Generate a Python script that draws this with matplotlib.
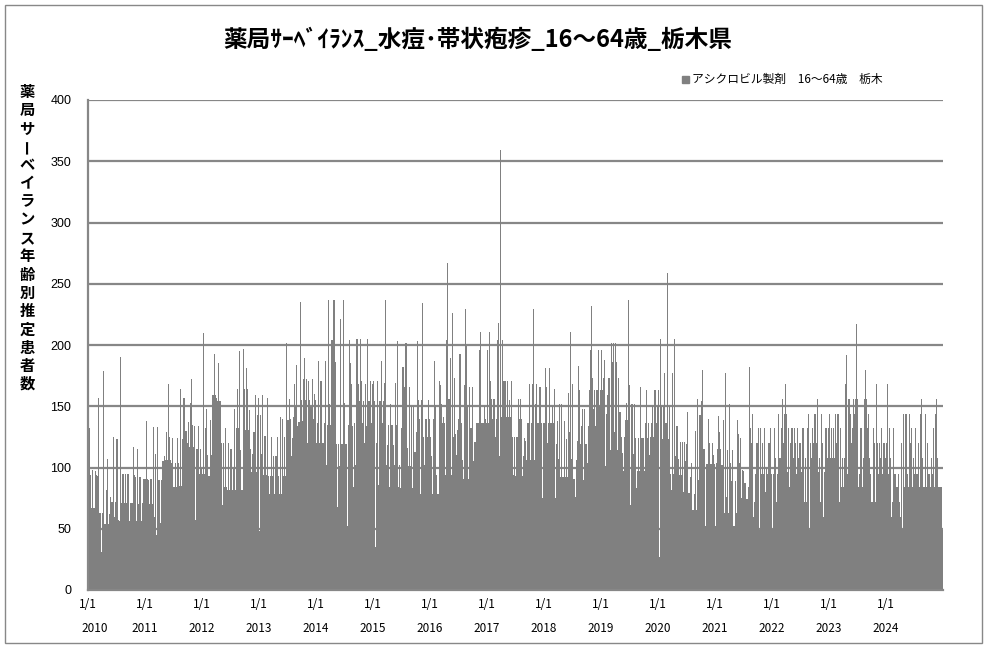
import matplotlib
matplotlib.use("Agg")
import matplotlib.pyplot as plt
import matplotlib.dates as mdates
from matplotlib.patches import Rectangle
import datetime as dt
import numpy as np

plt.rcParams['font.family'] = ['Noto Sans CJK JP', 'DejaVu Sans']

# Data: weekly values, one list per year
years = list(range(2010, 2025))
v2010 = [94, 132, 94, 67, 98, 67, 97, 94, 93, 157, 63, 63, 31, 63, 179, 54, 82, 107,
         54, 62, 76, 72, 72, 125, 60, 72, 123, 57, 56, 190, 71, 95, 95, 71, 95, 71,
         95, 56, 71, 71, 71, 117, 94, 92, 56, 115, 70, 92, 56, 71, 91, 91]
v2011 = [91, 138, 91, 90, 70, 91, 70, 133, 60, 111, 45, 133, 90, 90, 55, 90, 105, 109,
         106, 129, 106, 168, 125, 106, 104, 124, 84, 104, 84, 124, 104, 85, 164, 85, 123,
         157, 157, 130, 120, 137, 117, 153, 172, 135, 117, 134, 57, 115, 134, 95, 115, 100]
v2012 = [95, 210, 95, 132, 148, 110, 93, 139, 110, 159, 159, 193, 159, 157, 154, 185,
         154, 120, 69, 120, 84, 132, 84, 82, 120,
         82, 115, 82, 99, 148, 82, 132, 164, 132, 195, 114, 82, 197, 164, 131, 181, 164,
         131, 147, 115, 96, 111, 129, 159, 96, 143, 157]
v2013 = [48, 143, 111, 159, 94, 126, 94, 157, 93, 78, 93, 125, 93, 109, 78, 109, 125, 93,
         78, 141, 78, 140, 93, 125, 93, 202, 139, 156, 140, 109, 124, 141, 168, 150, 184,
         134, 137, 235, 155, 138, 172, 189, 155, 172, 120, 171, 155, 150, 172, 140, 160, 155]
v2014 = [120, 136, 187, 120, 171, 171, 120, 136, 187, 102, 135, 237, 152, 135, 204, 204,
         237, 186, 119, 68, 119, 101, 221, 119, 119, 237, 153, 119, 52, 135, 204, 185, 168,
         134, 84, 136, 102, 205, 168, 154, 205, 171, 136, 154, 120, 168, 134, 205, 154, 171,
         136, 168]
v2015 = [171, 154, 35, 120, 171, 86, 154, 187, 136, 154, 169, 237, 102, 118, 135, 84, 152,
         135, 118, 102, 169, 135, 203, 84, 102, 83, 132, 182, 166, 202, 202, 116, 101, 166,
         101, 150, 83, 150, 113, 129, 203, 155, 140, 78, 155, 234, 125, 102, 140, 125, 155, 140]
v2016 = [125, 109, 78, 140, 187, 151, 94, 78, 171, 167, 152, 136, 141, 136, 94, 204, 267,
         156, 189, 94, 226, 125, 173, 127, 110, 131, 140, 193, 136, 106, 91, 167, 229, 199,
         151, 91, 166, 132, 166, 105, 121, 121, 136, 136, 136, 196, 211, 136, 136, 150, 140, 136]
v2017 = [196, 136, 211, 171, 156, 140, 156, 125, 140, 204, 218, 109, 359, 141, 204, 171,
         171, 141, 171, 141, 155, 141, 171, 125, 94, 125,
         93, 125, 156, 140, 156, 140, 93, 109, 124, 122, 106, 136, 168, 106, 136, 168, 229,
         106, 152, 168, 136, 136, 166, 136, 75, 136]
v2018 = [136, 181, 166, 120, 136, 181, 136, 150, 136, 164, 75, 119, 138, 107, 152, 92, 152,
         92, 138, 92, 123, 92, 161, 129, 211, 107, 168, 91, 76, 106, 122, 183, 163, 119, 134,
         148, 90, 148, 119, 104, 134, 163, 196, 232, 173, 148, 163, 134, 163, 196, 150, 163]
v2019 = [196, 163, 173, 188, 101, 144, 159, 173, 114, 202, 186, 202, 129, 202, 186, 114,
         173, 145, 125, 112, 97, 125, 139, 153, 139, 237, 167, 69, 152, 111, 152, 124, 83, 97,
         124, 97, 166, 124, 124, 97, 136, 163, 124, 136, 110, 125, 136, 150, 125, 163, 136, 150]
v2020 = [163, 27, 205, 150, 123, 150, 177, 136, 259, 123, 150, 95, 82, 177, 95, 205, 109,
         134, 107, 94, 121, 94, 121, 80, 121, 105, 119, 145, 79, 92, 104, 65, 65, 78, 130, 65,
         156, 90, 143, 154, 180, 115, 115, 52, 103, 103, 140, 120, 103, 120, 110, 103]
v2021 = [52, 104, 115, 142, 129, 115, 102, 139, 63, 177, 76, 114, 63, 152, 104, 89, 114, 52,
         89, 63, 139, 127, 104, 124, 75, 98, 97, 87, 74, 74, 84, 182, 132, 120, 144, 60, 72, 95,
         120, 132, 49, 132, 95, 120, 95, 132, 80, 100, 95, 120, 132, 95]
v2022 = [50, 95, 132, 108, 72, 95, 144, 108, 132, 156, 120, 144, 168, 144, 96, 132, 84, 120,
         132, 108, 132, 120, 95, 132, 108, 120,
         120, 96, 132, 72, 108, 72, 132, 144, 49, 120, 108, 132, 120, 144, 120, 156, 96, 108,
         72, 144, 120, 60, 96, 132, 108, 132]
v2023 = [144, 108, 132, 108, 132, 108, 144, 120, 144, 72, 132, 84, 108, 84, 108, 168, 192,
         95, 156, 144, 120, 132, 156, 144, 156, 217, 156, 84, 95, 132, 84, 108, 156, 180, 156,
         132, 144, 108, 95, 72, 132, 120, 72, 168, 120, 95, 120, 108, 132, 95, 120, 108]
v2024 = [120, 168, 95, 132, 108, 60, 72, 132, 95, 84, 84, 95, 72, 60, 120, 50, 144, 84, 144,
         95, 84, 144, 120, 132, 84, 108, 95, 132, 95, 120, 84, 144, 156, 108, 84, 84, 144, 84,
         120, 95, 84, 108, 95, 132, 84, 144, 156, 108, 84, 84, 84, 49]
last_value = 3  # first day of 2025
series = [v2010, v2011, v2012, v2013, v2014, v2015, v2016, v2017,
          v2018, v2019, v2020, v2021, v2022, v2023, v2024]

title = "薬局ｻｰﾍﾞｲﾗﾝｽ_水痘･帯状疱疹_16～64歳_栃木県"
ylabel = "薬局サーベイランス年齢別推定患者数"
legend_label = "アシクロビル製剤　16～64歳　栃木"

W, H = 987, 648
fig = plt.figure(figsize=(W / 100, H / 100), dpi=100)
ax = fig.add_axes([88 / W, 1 - 590 / H, (943 - 88) / W, (590 - 100) / H])

bar_color = '#808080'
for yr, vals in zip(years, series):
    start = mdates.date2num(dt.datetime(yr, 1, 1))
    end = mdates.date2num(dt.datetime(yr + 1, 1, 1))
    step = (end - start) / len(vals)
    x = start + step * np.arange(len(vals))
    ax.bar(x, vals, width=step, align='edge', color=bar_color, linewidth=0, zorder=2)
d_last = mdates.date2num(dt.datetime(2025, 1, 1))
ax.bar([d_last], [last_value], width=1.0, align='edge', color=bar_color, linewidth=0, zorder=2)

ax.set_xlim(mdates.date2num(dt.datetime(2010, 1, 1)), d_last + 1.5)
ax.set_ylim(0, 400)

# grid and spines
ax.set_yticks(np.arange(0, 401, 50))
ax.yaxis.grid(True, color='#878787', lw=1.6, zorder=1)
for s in ['top', 'right']:
    ax.spines[s].set_visible(False)
ax.spines['left'].set_color('#878787')
ax.spines['left'].set_linewidth(1.6)
ax.spines['bottom'].set_color('#878787')
ax.spines['bottom'].set_linewidth(1.6)
ax.tick_params(axis='y', length=0, pad=12, labelsize=9)
for lab in ax.get_yticklabels():
    lab.set_family(['Liberation Sans', 'DejaVu Sans'])

year_ticks = [mdates.date2num(dt.datetime(y, 1, 1)) for y in years]
ax.set_xticks(year_ticks)
ax.set_xticklabels(['1/1'] * len(years), fontsize=8.5)
ax.tick_params(axis='x', direction='in', length=3, color='#c0c0c0', pad=6)
for i, (xt, y) in enumerate(zip(year_ticks, years)):
    ax.annotate(str(y), xy=(xt, 0), xycoords=('data', 'axes fraction'),
                xytext=(5 if i == 0 else 0, -28), textcoords='offset points',
                ha='center', va='center', fontsize=8.5)

# title
fig.text(478 / W, 1 - 40 / H, title, ha='center', va='center',
         fontsize=17, fontweight='bold')

# vertical y label, one character per line
top_y, step_y = 92, 18.25
for i, ch in enumerate(ylabel):
    fig.text(27 / W, 1 - (top_y + i * step_y) / H, ch, ha='center', va='center',
             fontsize=11, fontweight='bold', rotation=90 if ch == 'ー' else 0)

# legend
fig.patches.append(Rectangle((682 / W, 1 - 83 / H), 7 / W, 7 / H,
                             transform=fig.transFigure, color=bar_color))
fig.text(692 / W, 1 - 79 / H, legend_label, ha='left', va='center', fontsize=8.5)

# outer frame
fig.patches.append(Rectangle((5 / W, 5 / H), (982 - 5) / W, (643 - 5) / H,
                             transform=fig.transFigure, fill=False,
                             edgecolor='#888888', lw=1))

fig.savefig('out.png', dpi=100)
